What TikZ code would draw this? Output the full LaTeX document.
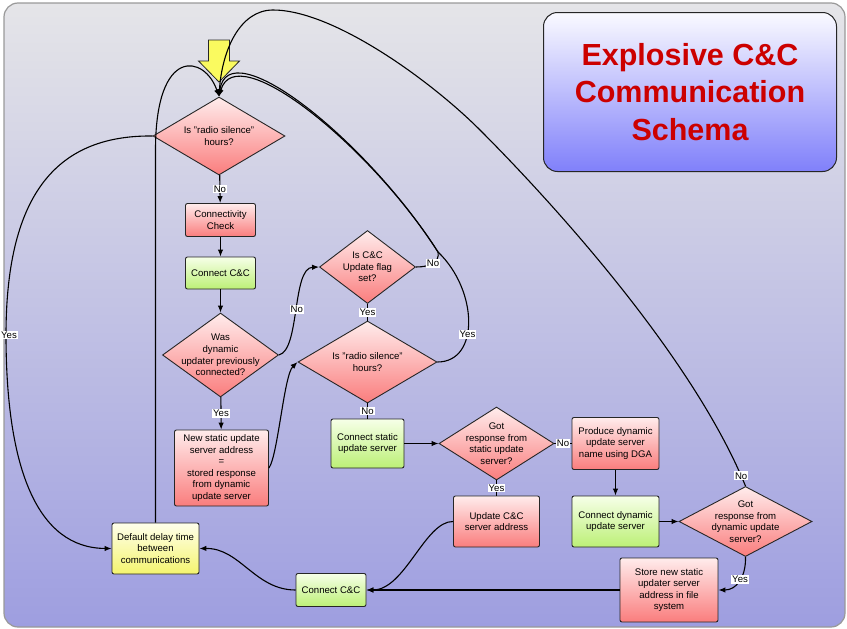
\documentclass[tikz,border=0pt]{standalone}
\usepackage{fontspec}
\setmainfont{Liberation Sans}
\usetikzlibrary{shapes.geometric,arrows.meta}

\definecolor{pinktop}{RGB}{255,236,236}
\definecolor{pinkbot}{RGB}{250,125,125}
\definecolor{greentop}{RGB}{246,255,232}
\definecolor{greenbot}{RGB}{188,240,118}
\definecolor{yellowtop}{RGB}{255,255,236}
\definecolor{yellowbot}{RGB}{244,244,110}
\definecolor{arrowyellow}{RGB}{250,250,95}
\definecolor{paneltop}{RGB}{229,229,232}
\definecolor{panelbot}{RGB}{158,158,224}
\definecolor{titletop}{RGB}{250,250,255}
\definecolor{titlebot}{RGB}{128,128,250}
\definecolor{titlered}{RGB}{204,0,0}

\newcommand{\boxfont}{\fontsize{9.6}{11.6}\selectfont}

\begin{document}
\begin{tikzpicture}[x=1pt, y=-1pt,
  box/.style={rectangle, draw=black!85, line width=0.9pt, rounded corners=2pt, align=center, font=\boxfont, inner sep=2pt},
  redbox/.style={box, top color=pinktop, bottom color=pinkbot},
  greenbox/.style={box, top color=greentop, bottom color=greenbot},
  yellowbox/.style={box, top color=yellowtop, bottom color=yellowbot},
  dia/.style={diamond, draw=black!85, line width=0.9pt, inner sep=0pt, top color=pinktop, bottom color=pinkbot},
  txt/.style={align=center, font=\boxfont, inner sep=0pt},
  link/.style={line width=1.1pt, -{Latex[length=7pt,width=5.5pt]}},
  plain/.style={line width=1.1pt},
  lbl/.style={fill=white, inner sep=1pt, font=\boxfont}]

\useasboundingbox (0,0) rectangle (847,629);
\draw[rounded corners=14pt, draw=black!40, line width=1.2pt, top color=paneltop, bottom color=panelbot] (4,3) rectangle (845,627);

\node[draw=black!85, line width=1pt, rounded corners=14pt, top color=titletop, bottom color=titlebot, minimum width=293pt, minimum height=159pt, align=center, text=titlered, font=\fontsize{30.5}{37.5}\selectfont\bfseries] (title) at (690,92) {Explosive C\&C\\Communication\\Schema};

\draw[fill=arrowyellow, draw=black!85, line width=0.8pt] (208.5,40) -- (229.5,40) -- (229.5,61) -- (239.5,61) -- (219,82) -- (198.5,61) -- (208.5,61) -- cycle;

\node[dia, minimum width=132pt, minimum height=78pt, label={[txt]center:Is "radio silence"\\hours?}] (1) at (219,136) {};
\node[redbox, minimum width=70pt, minimum height=33pt] (2) at (220.5,220) {Connectivity\\Check};
\node[greenbox, minimum width=70pt, minimum height=32pt] (3) at (220.5,273) {Connect C\&C};
\node[dia, minimum width=116pt, minimum height=84pt, label={[txt]center:Was\\dynamic\\updater previously\\connected?}] (4) at (220.5,355) {};
\node[redbox, minimum width=94pt, minimum height=76pt] (5) at (221.5,468) {New static update\\server address\\=\\stored response\\from dynamic\\update server};
\node[dia, minimum width=96pt, minimum height=73pt, label={[txt]center:Is C\&C\\Update flag\\set?}] (6) at (367.5,267) {};
\node[dia, minimum width=139pt, minimum height=82pt, label={[txt]center:Is "radio silence"\\hours?}] (7) at (367.5,362) {};
\node[greenbox, minimum width=73pt, minimum height=49pt] (8) at (367.5,443.5) {Connect static\\update server};
\node[dia, minimum width=115pt, minimum height=73pt, label={[txt]center:Got\\response from\\static update\\server?}] (9) at (496.5,443.5) {};
\node[redbox, minimum width=87pt, minimum height=52pt] (10) at (615.5,443.5) {Produce dynamic\\update server\\name using DGA};
\node[redbox, minimum width=86pt, minimum height=51pt] (11) at (496.5,521.5) {Update C\&C\\server address};
\node[greenbox, minimum width=87pt, minimum height=51pt] (12) at (615.5,521.5) {Connect dynamic\\update server};
\node[dia, minimum width=133pt, minimum height=70pt, label={[txt]center:Got\\response from\\dynamic update\\server?}] (13) at (745.5,521.5) {};
\node[redbox, minimum width=98pt, minimum height=64pt] (14) at (669,590) {Store new static\\updater server\\address in file\\system};
\node[greenbox, minimum width=70pt, minimum height=33pt] (15) at (331,590) {Connect C\&C};
\node[yellowbox, minimum width=87pt, minimum height=51pt] (16) at (155.5,548.5) {Default delay time\\between\\communications};

\draw[link] (1) -- node[lbl]{No} (2);
\draw[link] (2) -- (3);
\draw[link] (3) -- (4);
\draw[link] (4) -- node[lbl]{Yes} (5);
\draw[link] (4.east) .. controls (300,350) and (292,268) .. (6.west) node[lbl, pos=0.5]{No};
\draw[link] (5.east) .. controls (278,455) and (284,375) .. (7.west);
\draw[plain] (6) -- node[lbl]{Yes} (7);
\draw[plain] (7) -- node[lbl]{No} (8);
\draw[link] (8) -- (9);
\draw[plain] (9) -- node[lbl]{No} (10);
\draw[plain] (9) -- node[lbl]{Yes} (11);
\draw[link] (10) -- (12);
\draw[link] (12) -- (13);
\draw[link] (13.south) .. controls (746,578) and (736,590) .. (14.east) node[lbl, pos=0.45]{Yes};
\draw[link] (14) -- (15);
\draw[link] (11.west) .. controls (425,521) and (405,590) .. (15.east);
\draw[link] (15.west) .. controls (255,590) and (240,548) .. (16.east);

\draw[link] (1.west) .. controls (60,135) and (6,190) .. (6,335) node[lbl, xshift=3pt]{Yes} .. controls (6,470) and (38,548) .. (16.west);
\draw[link] (16.north) -- (155.5,150) .. controls (155.5,45) and (205,55) .. (1.north);
\draw[link] (6.east) .. controls (430,267) and (440,262) .. (438,252) node[lbl, pos=0.5]{No} .. controls (372,148) and (236,36) .. (1.north);
\draw[link] (7.east) .. controls (480,362) and (478,290) .. (438,252) node[lbl, pos=0.4]{Yes} .. controls (365,138) and (228,30) .. (1.north);
\draw[link] (13.north) .. controls (690,350) and (540,190) .. (480,130) node[lbl, pos=0.025]{No} .. controls (430,80) and (333,10) .. (273,10) .. controls (240,10) and (222,50) .. (1.north);

\end{tikzpicture}
\end{document}
